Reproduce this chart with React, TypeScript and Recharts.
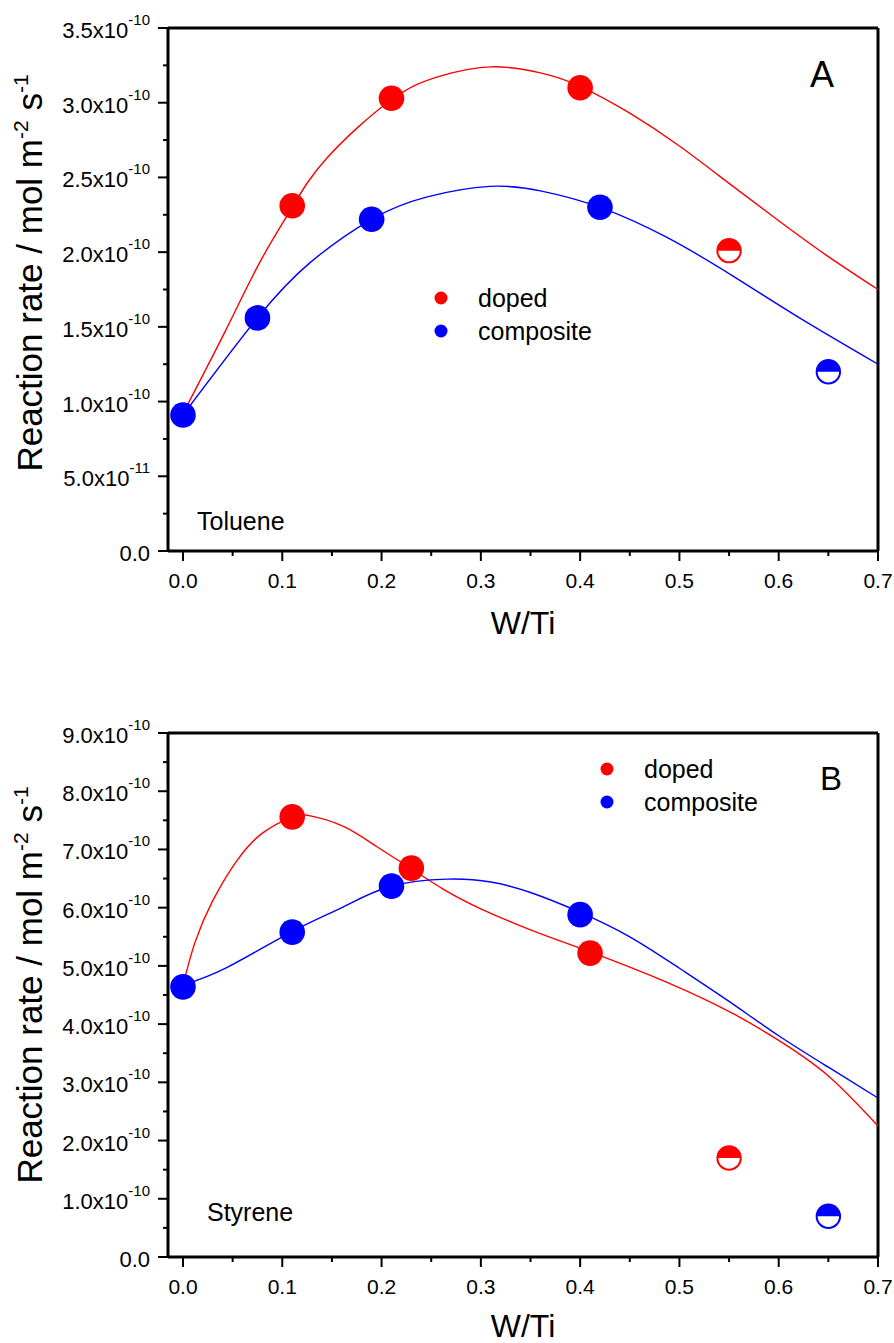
import React from "react";
import {
  ComposedChart,
  Line,
  Scatter,
  XAxis,
  YAxis,
  ReferenceLine,
} from "recharts";

const FONT = "'Liberation Sans', Arial, sans-serif";
const RED = "#ff0000";
const BLUE = "#0000ff";

// values in units of 1e-10 mol m-2 s-1
const xTicks = [0, 0.05, 0.1, 0.15, 0.2, 0.25, 0.3, 0.35, 0.4, 0.45, 0.5, 0.55, 0.6, 0.65, 0.7];
const xTickLabels = ["0.0", "0.1", "0.2", "0.3", "0.4", "0.5", "0.6", "0.7"];

const yTicksA = [0, 0.25, 0.5, 0.75, 1, 1.25, 1.5, 1.75, 2, 2.25, 2.5, 2.75, 3, 3.25, 3.5];
const yTickLabelsA = [
  ["0.0", ""],
  ["5.0x10", "-11"],
  ["1.0x10", "-10"],
  ["1.5x10", "-10"],
  ["2.0x10", "-10"],
  ["2.5x10", "-10"],
  ["3.0x10", "-10"],
  ["3.5x10", "-10"],
];

const yTicksB = [0, 0.5, 1, 1.5, 2, 2.5, 3, 3.5, 4, 4.5, 5, 5.5, 6, 6.5, 7, 7.5, 8, 8.5, 9];
const yTickLabelsB = [
  ["0.0", ""],
  ["1.0x10", "-10"],
  ["2.0x10", "-10"],
  ["3.0x10", "-10"],
  ["4.0x10", "-10"],
  ["5.0x10", "-10"],
  ["6.0x10", "-10"],
  ["7.0x10", "-10"],
  ["8.0x10", "-10"],
  ["9.0x10", "-10"],
];

// Toluene (A)
const dopedA = [
  { x: 0.11, y: 2.31 },
  { x: 0.21, y: 3.03 },
  { x: 0.4, y: 3.1 },
];
const dopedAHalf = [{ x: 0.55, y: 2.01 }];
const compositeA = [
  { x: 0, y: 0.91 },
  { x: 0.075, y: 1.56 },
  { x: 0.19, y: 2.22 },
  { x: 0.42, y: 2.3 },
];
const compositeAHalf = [{ x: 0.65, y: 1.2 }];
const dopedFitA = [
  { x: 0, y: 0.92 },
  { x: 0.044, y: 1.49 },
  { x: 0.078, y: 1.94 },
  { x: 0.11, y: 2.3 },
  { x: 0.145, y: 2.63 },
  { x: 0.21, y: 3.02 },
  { x: 0.26, y: 3.18 },
  { x: 0.31, y: 3.24 },
  { x: 0.36, y: 3.2 },
  { x: 0.4, y: 3.11 },
  { x: 0.45, y: 2.93 },
  { x: 0.5, y: 2.71 },
  { x: 0.55, y: 2.46 },
  { x: 0.6, y: 2.21 },
  { x: 0.65, y: 1.97 },
  { x: 0.7, y: 1.75 },
];
const compositeFitA = [
  { x: 0, y: 0.91 },
  { x: 0.075, y: 1.56 },
  { x: 0.128, y: 1.93 },
  { x: 0.19, y: 2.22 },
  { x: 0.246, y: 2.37 },
  { x: 0.309, y: 2.44 },
  { x: 0.36, y: 2.41 },
  { x: 0.42, y: 2.3 },
  { x: 0.487, y: 2.1 },
  { x: 0.554, y: 1.84 },
  { x: 0.621, y: 1.56 },
  { x: 0.7, y: 1.25 },
];

// Styrene (B)
const dopedB = [
  { x: 0.11, y: 7.56 },
  { x: 0.23, y: 6.68 },
  { x: 0.41, y: 5.22 },
];
const dopedBHalf = [{ x: 0.55, y: 1.7 }];
const compositeB = [
  { x: 0, y: 4.64 },
  { x: 0.11, y: 5.58 },
  { x: 0.21, y: 6.37 },
  { x: 0.4, y: 5.88 },
];
const compositeBHalf = [{ x: 0.65, y: 0.7 }];
const dopedFitB = [
  { x: 0, y: 4.67 },
  { x: 0.012, y: 5.4 },
  { x: 0.03, y: 6.12 },
  { x: 0.054, y: 6.8 },
  { x: 0.08, y: 7.28 },
  { x: 0.109, y: 7.55 },
  { x: 0.127, y: 7.58 },
  { x: 0.161, y: 7.4 },
  { x: 0.195, y: 7.05 },
  { x: 0.229, y: 6.68 },
  { x: 0.262, y: 6.32 },
  { x: 0.3, y: 5.98 },
  { x: 0.35, y: 5.62 },
  { x: 0.41, y: 5.24 },
  { x: 0.487, y: 4.72 },
  { x: 0.554, y: 4.18 },
  { x: 0.6, y: 3.72 },
  { x: 0.65, y: 3.11 },
  { x: 0.7, y: 2.25 },
];
const compositeFitB = [
  { x: 0, y: 4.67 },
  { x: 0.044, y: 4.97 },
  { x: 0.109, y: 5.58 },
  { x: 0.161, y: 6.01 },
  { x: 0.208, y: 6.36 },
  { x: 0.266, y: 6.49 },
  { x: 0.31, y: 6.44 },
  { x: 0.35, y: 6.26 },
  { x: 0.4, y: 5.92 },
  { x: 0.45, y: 5.5 },
  { x: 0.5, y: 4.96 },
  { x: 0.55, y: 4.39 },
  { x: 0.6, y: 3.8 },
  { x: 0.65, y: 3.26 },
  { x: 0.7, y: 2.73 },
];

const XTick = (props: any) => {
  const { x, y, payload } = props;
  const v = payload.value;
  const idx = Math.round(v * 10);
  const major = Math.abs(v * 10 - idx) < 1e-6;
  return (
    <g>
      <line x1={x} x2={x} y1={y} y2={y + (major ? 10 : 5)} stroke="#000" strokeWidth={2} />
      {major && (
        <text x={x} y={y + 37} textAnchor="middle" fontSize={21} fontFamily={FONT} fill="#000">
          {xTickLabels[idx]}
        </text>
      )}
    </g>
  );
};

const makeYTick = (labels: string[][], step: number) => (props: any) => {
  const { x, y, payload } = props;
  const v = payload.value;
  const k = v / step;
  const li = Math.round(k);
  const major = Math.abs(k - li) < 1e-6;
  const lab = labels[li];
  return (
    <g>
      <line x1={x - (major ? 10 : 5)} x2={x} y1={y} y2={y} stroke="#000" strokeWidth={2} />
      {major && lab && (
        <text x={x - 18} y={y + 10} textAnchor="end" fontSize={22} fontFamily={FONT} fill="#000">
          {lab[0]}
          {lab[1] && (
            <tspan dy={-13} fontSize={15}>
              {lab[1]}
            </tspan>
          )}
        </text>
      )}
    </g>
  );
};

const FullDot = (color: string) => (props: any) => (
  <circle cx={props.cx} cy={props.cy} r={12.8} fill={color} />
);

const HalfDot = (color: string) => (props: any) => {
  const { cx, cy } = props;
  const r = 11.7;
  return (
    <g>
      <circle cx={cx} cy={cy} r={r} fill="#fff" stroke={color} strokeWidth={2} />
      <path d={`M${cx - r},${cy} A${r},${r} 0 0 1 ${cx + r},${cy} Z`} fill={color} />
    </g>
  );
};

const YTitle = ({ x, y }: { x: number; y: number }) => (
  <text
    transform={`translate(${x},${y}) rotate(-90)`}
    textAnchor="middle"
    fontSize={35}
    fontFamily={FONT}
    fill="#000"
  >
    Reaction rate / mol m
    <tspan dy={-14} fontSize={21}>-2</tspan>
    <tspan dy={14}> s</tspan>
    <tspan dy={-14} fontSize={21}>-1</tspan>
  </text>
);

interface Pt {
  x: number;
  y: number;
}

interface PanelProps {
  top: number;
  height: number;
  marginTop: number;
  xAxisHeight: number;
  yMax: number;
  yTicks: number[];
  yLabels: string[][];
  yStep: number;
  doped: Pt[];
  dopedHalf: Pt[];
  composite: Pt[];
  compositeHalf: Pt[];
  dopedFit: Pt[];
  compositeFit: Pt[];
  letter: string;
  letterPos: [number, number, number];
  compound: string;
  compoundPos: [number, number];
  legendPos: [number, number];
  titleY: number;
  xTitleY: number;
}

function Panel(p: PanelProps) {
  return (
    <div style={{ position: "absolute", left: 0, top: p.top, width: 894, height: p.height }}>
      <ComposedChart
        width={894}
        height={p.height}
        margin={{ top: p.marginTop, right: 16, left: 0, bottom: 0 }}
      >
        <XAxis
          dataKey="x"
          type="number"
          domain={[-0.0151, 0.7]}
          ticks={xTicks}
          interval={0}
          allowDataOverflow
          height={p.xAxisHeight}
          tickLine={false}
          tickSize={0}
          tickMargin={0}
          axisLine={{ stroke: "#000", strokeWidth: 3 }}
          tick={<XTick />}
        />
        <YAxis
          type="number"
          domain={[0, p.yMax]}
          ticks={p.yTicks}
          interval={0}
          allowDataOverflow
          width={168}
          tickLine={false}
          tickSize={0}
          tickMargin={0}
          axisLine={{ stroke: "#000", strokeWidth: 3 }}
          tick={makeYTick(p.yLabels, p.yStep)}
        />
        <ReferenceLine y={p.yMax} stroke="#000" strokeWidth={3} />
        <ReferenceLine x={0.7} stroke="#000" strokeWidth={3} />
        <Scatter data={p.doped} dataKey="y" shape={FullDot(RED)} isAnimationActive={false} />
        <Scatter data={p.dopedHalf} dataKey="y" shape={HalfDot(RED)} isAnimationActive={false} />
        <Scatter data={p.composite} dataKey="y" shape={FullDot(BLUE)} isAnimationActive={false} />
        <Scatter data={p.compositeHalf} dataKey="y" shape={HalfDot(BLUE)} isAnimationActive={false} />
        <Line
          data={p.dopedFit}
          dataKey="y"
          type="natural"
          stroke={RED}
          strokeWidth={1.4}
          dot={false}
          activeDot={false}
          isAnimationActive={false}
        />
        <Line
          data={p.compositeFit}
          dataKey="y"
          type="natural"
          stroke={BLUE}
          strokeWidth={1.4}
          dot={false}
          activeDot={false}
          isAnimationActive={false}
        />
      </ComposedChart>
      <svg
        width={894}
        height={p.height}
        style={{ position: "absolute", left: 0, top: 0, pointerEvents: "none" }}
      >
        <YTitle x={42} y={p.titleY} />
        <text x={523} y={p.xTitleY} textAnchor="middle" fontSize={32} fontFamily={FONT}>
          W/Ti
        </text>
        <text x={p.letterPos[0]} y={p.letterPos[1]} textAnchor="middle" fontSize={p.letterPos[2]} fontFamily={FONT}>
          {p.letter}
        </text>
        <text x={p.compoundPos[0]} y={p.compoundPos[1]} fontSize={25} fontFamily={FONT}>
          {p.compound}
        </text>
        <circle cx={p.legendPos[0]} cy={p.legendPos[1]} r={6.5} fill={RED} />
        <text x={p.legendPos[0] + 37} y={p.legendPos[1] + 9} fontSize={25} fontFamily={FONT}>
          doped
        </text>
        <circle cx={p.legendPos[0]} cy={p.legendPos[1] + 33} r={6.5} fill={BLUE} />
        <text x={p.legendPos[0] + 37} y={p.legendPos[1] + 42} fontSize={25} fontFamily={FONT}>
          composite
        </text>
      </svg>
    </div>
  );
}

export default function App() {
  return (
    <div style={{ position: "absolute", left: 0, top: 0, width: 894, height: 1343, background: "#fff" }}>
      <Panel
        top={0}
        height={660}
        marginTop={28}
        xAxisHeight={109}
        yMax={3.5}
        yTicks={yTicksA}
        yLabels={yTickLabelsA}
        yStep={0.5}
        doped={dopedA}
        dopedHalf={dopedAHalf}
        composite={compositeA}
        compositeHalf={compositeAHalf}
        dopedFit={dopedFitA}
        compositeFit={compositeFitA}
        letter="A"
        letterPos={[822, 87, 36]}
        compound="Toluene"
        compoundPos={[197, 530]}
        legendPos={[441, 298]}
        titleY={273}
        xTitleY={634}
      />
      <Panel
        top={680}
        height={663}
        marginTop={53}
        xAxisHeight={86}
        yMax={9}
        yTicks={yTicksB}
        yLabels={yTickLabelsB}
        yStep={1}
        doped={dopedB}
        dopedHalf={dopedBHalf}
        composite={compositeB}
        compositeHalf={compositeBHalf}
        dopedFit={dopedFitB}
        compositeFit={compositeFitB}
        letter="B"
        letterPos={[831, 110, 33]}
        compound="Styrene"
        compoundPos={[207, 541]}
        legendPos={[607, 89]}
        titleY={305}
        xTitleY={657}
      />
    </div>
  );
}
